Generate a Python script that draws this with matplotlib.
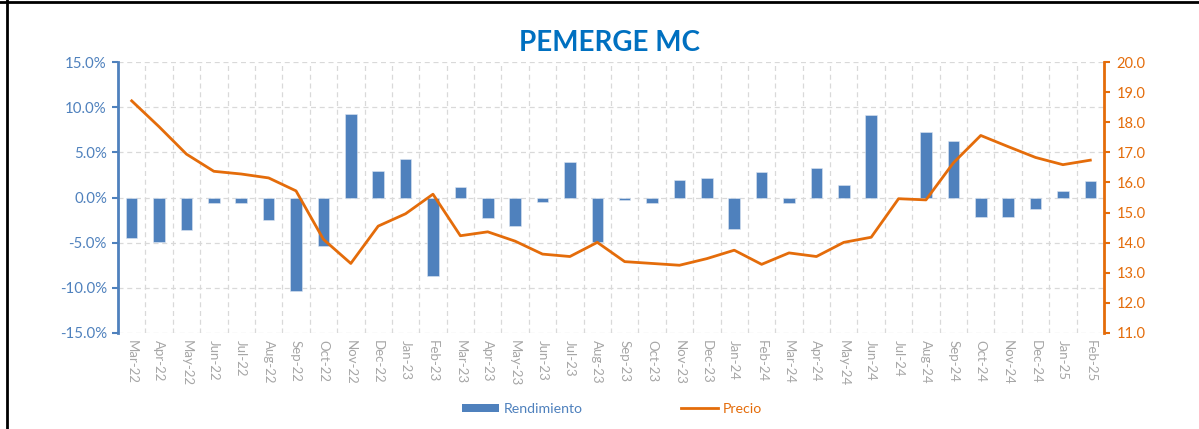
import matplotlib
matplotlib.use("Agg")
import matplotlib.pyplot as plt
from matplotlib.lines import Line2D
from matplotlib.patches import Patch
from matplotlib.ticker import FuncFormatter, MultipleLocator
import numpy as np

# Data
meses = ["Mar-22", "Apr-22", "May-22", "Jun-22", "Jul-22", "Aug-22", "Sep-22", "Oct-22",
         "Nov-22", "Dec-22", "Jan-23", "Feb-23", "Mar-23", "Apr-23", "May-23", "Jun-23",
         "Jul-23", "Aug-23", "Sep-23", "Oct-23", "Nov-23", "Dec-23", "Jan-24", "Feb-24",
         "Mar-24", "Apr-24", "May-24", "Jun-24", "Jul-24", "Aug-24", "Sep-24", "Oct-24",
         "Nov-24", "Dec-24", "Jan-25", "Feb-25"]

rendimiento = [-4.5, -4.9, -3.6, -0.6, -0.6, -2.5, -10.4, -5.4,
               9.2, 2.9, 4.3, -8.7, 1.15, -2.3, -3.1, -0.5,
               3.9, -4.9, -0.25, -0.6, 1.9, 2.15, -3.5, 2.8,
               -0.6, 3.3, 1.4, 9.1, -0.1, 7.3, 6.3, -2.15,
               -2.15, -1.25, 0.75, 1.8]

precio = [18.71, 17.85, 16.94, 16.37, 16.28, 16.15, 15.72, 14.11,
          13.31, 14.55, 14.96, 15.61, 14.23, 14.36, 14.05, 13.62,
          13.54, 14.01, 13.37, 13.31, 13.25, 13.47, 13.75, 13.28,
          13.66, 13.54, 14.01, 14.18, 15.46, 15.42, 16.65, 17.56,
          17.19, 16.83, 16.59, 16.74]

azul = "#4F81BD"
naranja = "#E46C0A"
gris = "#A6A6A6"

plt.rcParams["font.family"] = ["Lato", "DejaVu Sans"]

fig = plt.figure(figsize=(11.99, 4.29), dpi=100)
ax = fig.add_axes([118 / 1199, 1 - 333 / 429, 986 / 1199, 271 / 429])

x = np.arange(len(meses))
ax.bar(x, rendimiento, width=0.42, color=azul, edgecolor="#DCE6F2", linewidth=0.4, zorder=3)
ax.set_xlim(-0.5, len(meses) - 0.5)
ax.set_ylim(-15, 15)
ax.yaxis.set_major_locator(MultipleLocator(5))
ax.yaxis.set_major_formatter(FuncFormatter(lambda v, p: f"{v:.1f}%"))
ax.tick_params(axis="y", colors=azul, labelsize=10.8, length=4, width=1.5, pad=4)

ax.set_xticks(x)
ax.set_xticklabels(meses, rotation=-90, color=gris, fontsize=9.5)
ax.tick_params(axis="x", length=0, pad=5)

# grid: horizontal at left-axis ticks, vertical at category boundaries
ax.grid(axis="y", color="#D9D9D9", linestyle=(0, (4, 3)), linewidth=0.9, zorder=0)
for b in np.arange(0.5, len(meses) - 0.5, 1.0):
    ax.axvline(b, color="#D9D9D9", linestyle=(0, (4, 3)), linewidth=0.9, zorder=0)

for s in ["top", "bottom", "right"]:
    ax.spines[s].set_visible(False)
ax.spines["left"].set_color(azul)
ax.spines["left"].set_linewidth(2)

ax2 = ax.twinx()
ax2.plot(x, precio, color=naranja, linewidth=2, zorder=4)
ax2.set_ylim(11, 20)
ax2.yaxis.set_major_locator(MultipleLocator(1))
ax2.yaxis.set_major_formatter(FuncFormatter(lambda v, p: f"{v:.1f}"))
ax2.tick_params(axis="y", colors=naranja, labelsize=10.5, length=4, width=1.5, pad=5)
for s in ["top", "bottom", "left"]:
    ax2.spines[s].set_visible(False)
ax2.spines["right"].set_color(naranja)
ax2.spines["right"].set_linewidth(2)

fig.text(0.508, 1 - 43 / 429, "PEMERGE MC", ha="center", va="center",
         fontsize=20, fontweight="bold", color="#0070C0")

handles = [Patch(facecolor=azul, edgecolor="none"),
           Line2D([0], [0], color=naranja, linewidth=2)]
leg = fig.legend(handles, ["Rendimiento", "Precio"], loc="center",
                 bbox_to_anchor=(612 / 1199, 1 - 409 / 429), ncol=2, frameon=False,
                 fontsize=10.2, handlelength=2.6, handleheight=0.5, columnspacing=7.0,
                 handletextpad=0.3)
leg.get_texts()[0].set_color(azul)
leg.get_texts()[1].set_color(naranja)

# outer frame (top and left edges visible in reference)
fig.add_artist(Line2D([0, 1], [1 - 1.5 / 429, 1 - 1.5 / 429], transform=fig.transFigure,
                      color="black", linewidth=2))
fig.add_artist(Line2D([6.5 / 1199, 6.5 / 1199], [0, 1], transform=fig.transFigure,
                      color="black", linewidth=2))

fig.savefig("out.png", dpi=100)
